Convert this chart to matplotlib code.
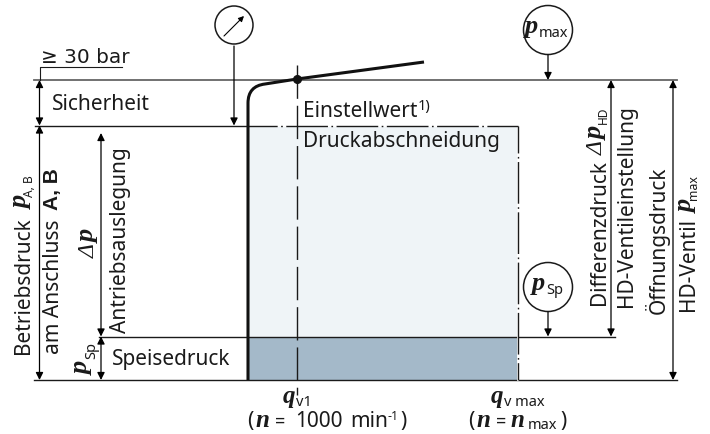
import matplotlib
matplotlib.use('Agg')
import matplotlib.pyplot as plt
from matplotlib.patches import Circle, PathPatch, Rectangle
from matplotlib.path import Path

plt.rcParams['font.family'] = ['Noto Sans', 'DejaVu Sans']

# levels (image pixels, y downwards)
p_top = 80
p_cut = 125.5
p_feed = 336.5
p_zero = 380
q_zero = 248
q_v1 = 296.5
q_max = 518

curve_x = [248, 248, 248, 265, 297, 424]
curve_y = [380, 103, 86, 84, 79, 62]

gauges_x = [234, 548, 548]
gauges_y = [25, 30, 287]
gauges_r = [19, 24.5, 24.5]

# x, y from, y to
double_arrows = [(39.5, p_top, p_cut), (39.5, p_cut, p_zero), (101, 133, p_feed),
                 (101, p_feed, p_zero), (611, p_top, p_feed), (673, p_top, p_zero)]
down_arrows = [(234, 46, p_cut), (548, 55, p_top), (548, 312, p_feed)]

DARK = '#1a1a1a'
FS = 15
SUB = 10.5
SYM = 19

fig = plt.figure(figsize=(7.10, 4.34), dpi=100)
ax = fig.add_axes([0, 0, 1, 1])
ax.set_xlim(0, 710)
ax.set_ylim(434, 0)
ax.axis('off')

# fill
ax.add_patch(Rectangle((q_zero, p_cut), q_max - q_zero, p_feed - p_cut, fc='#eff4f7', ec='none', zorder=1))
ax.add_patch(Rectangle((q_zero, p_feed), q_max - q_zero, p_zero - p_feed, fc='#a4b9c9', ec='none', zorder=1))

# horizontal lines
ax.plot([34, 677], [p_top, p_top], color='#666666', lw=1.3, zorder=2)
ax.plot([35, q_zero], [p_cut, p_cut], color=DARK, lw=1.0, zorder=2)
ax.plot([99, 615], [p_feed, p_feed], color=DARK, lw=1.0, zorder=2)
ax.plot([34, 677], [p_zero, p_zero], color=DARK, lw=1.0, zorder=2)
ax.plot([40, 40, 122], [p_top, 66.5, 66.5], color=DARK, lw=0.8, zorder=2)

# dash dot lines, white below so the gaps show as notches
ax.plot([q_zero, q_max], [p_cut, p_cut], color='white', lw=1.3, zorder=2)
ax.plot([q_max, q_max], [p_cut, p_zero], color='white', lw=1.3, zorder=2)
ax.plot([q_zero, q_max], [p_cut, p_cut], color=DARK, lw=1.0, ls=(9, (30, 2.5, 1.2, 2.5)), zorder=3)
ax.plot([q_max, q_max], [p_cut, p_zero], color=DARK, lw=1.0, ls=(10.6, (30, 2.5, 1.2, 2.5)), zorder=3)
ax.plot([q_v1, q_v1], [65, 395], color=DARK, lw=1.0, ls=(0, (24, 5)), zorder=3)

# characteristic curve
verts = list(zip(curve_x, curve_y))
codes = [Path.MOVETO, Path.LINETO, Path.CURVE3, Path.CURVE3, Path.LINETO, Path.LINETO]
ax.add_patch(PathPatch(Path(verts, codes), fc='none', ec='#111111', lw=2.2, zorder=4, capstyle='butt'))
ax.plot([curve_x[4]], [curve_y[4]], 'o', color='#111111', ms=5.5, zorder=5)

# gauges
for x, y, r in zip(gauges_x, gauges_y, gauges_r):
    ax.add_patch(Circle((x, y), r, fc='white', ec=DARK, lw=1.1, zorder=4))


def arrow(x0, y0, x1, y1, style='-|>', lw=0.9, ms=11):
    ax.annotate('', xy=(x1, y1), xytext=(x0, y0), zorder=6,
                arrowprops=dict(arrowstyle=style, color='black', lw=lw, mutation_scale=ms,
                                shrinkA=0, shrinkB=0))


arrow(224, 36, 244, 16, ms=8, lw=0.8)
for x, y0, y1 in down_arrows:
    arrow(x, y0, x, y1)
for x, y0, y1 in double_arrows:
    arrow(x, y0, x, y1, style='<|-|>')


def label(x, y, s, fs=FS, rot=0, **kw):
    # x, y is the start of the baseline
    ax.text(x, y, s, rotation=rot, rotation_mode='anchor', ha='left', va='baseline',
            fontsize=fs, color=DARK, zorder=7, **kw)


def sym(x, y, s, fs=SYM, rot=0, weight='bold'):
    label(x, y, s, fs=fs, rot=rot, family='Liberation Serif', style='italic', weight=weight)


# horizontal texts
label(41, 62.7, '≥ 30 bar', fs=14.4, family='DejaVu Sans')
label(52, 110, 'Sicherheit')
label(303, 116.7, 'Einstellwert')
label(418, 110, '1)', fs=SUB)
label(303, 147, 'Druckabschneidung')
label(112, 364.7, 'Speisedruck')

# symbols in the gauges
sym(525, 33, 'p')
label(539, 36.7, 'max', fs=SUB)
sym(532, 290, 'p')
label(546, 293.5, 'Sp', fs=SUB)

# rotated texts on the left
label(29, 354, 'Betriebsdruck', rot=90)
sym(28, 209, 'p', rot=90)
label(33, 197, 'A, B', fs=8.6, rot=90)
label(59, 354, 'am Anschluss', rot=90)
label(58, 210, 'A, B', rot=90, family='Liberation Sans', weight='bold')
sym(95, 258, 'Δ', fs=17, rot=90, weight='normal')
sym(95, 243, 'p', rot=90)
label(126, 333, 'Antriebsauslegung', rot=90)
sym(89, 375, 'p', rot=90)
label(95, 359, 'Sp', fs=SUB, rot=90)

# rotated texts on the right
label(605, 305, 'Differenzdruck', rot=90)
sym(603, 155, 'Δ', fs=17, rot=90, weight='normal')
sym(603, 140, 'p', rot=90)
label(607, 124, 'HD', fs=8.6, rot=90)
label(632, 307, 'HD-Ventileinstellung', rot=90)
label(665, 313.5, 'Öffnungsdruck', rot=90)
label(694, 311, 'HD-Ventil', rot=90)
sym(693, 213, 'p', rot=90)
label(697, 200, 'max', fs=8.9, rot=90)

# below the axis
sym(283, 403, 'q', fs=18)
label(296, 405.5, 'v1', fs=SUB)
sym(491, 403, 'q', fs=18)
label(504, 405.5, 'v max', fs=SUB)

label(247, 427, '(')
sym(255, 427, 'n', fs=18)
label(275, 427, '=', fs=13)
label(295, 427, '1000')
label(350, 427, 'min')
label(388, 420, '-1', fs=9)
label(400, 427, ')')

label(468, 427, '(')
sym(476, 427, 'n', fs=18)
label(496, 427, '=', fs=13)
sym(510, 427, 'n', fs=18)
label(528, 429, 'max', fs=SUB)
label(560, 427, ')')

fig.savefig('out.png', dpi=100)
